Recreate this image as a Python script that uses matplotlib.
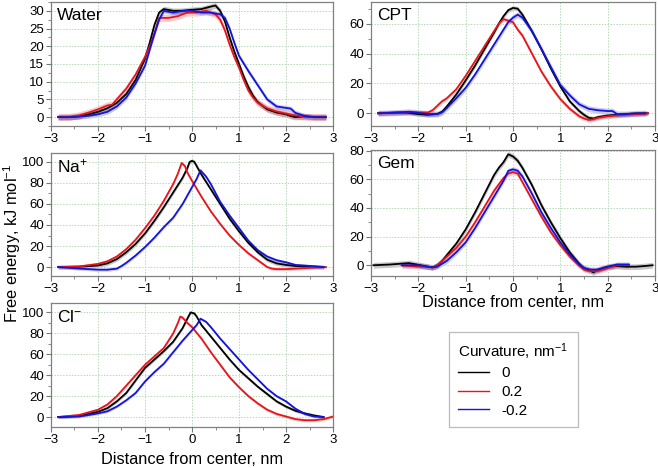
import numpy as np
import matplotlib
matplotlib.use("Agg")
import matplotlib.pyplot as plt
from matplotlib.ticker import MultipleLocator
from matplotlib.lines import Line2D

plt.rcParams['font.family'] = ['Liberation Sans', 'DejaVu Sans']
plt.rcParams['mathtext.fontset'] = 'custom'
plt.rcParams['mathtext.rm'] = 'Liberation Sans'
plt.rcParams['mathtext.it'] = 'Liberation Sans'

# (distance, free energy)
water_0 = [(-2.85, 0), (-2.6, 0), (-2.4, 0.3), (-2.2, 0.8), (-2.0, 1.5), (-1.8, 2.5), (-1.6, 4), (-1.4, 6.5),
           (-1.2, 10.5), (-1.0, 16.5), (-0.9, 21), (-0.8, 26), (-0.7, 29.5), (-0.6, 30.5), (-0.4, 30), (-0.2, 30),
           (0, 30.3), (0.2, 30.5), (0.4, 31.2), (0.5, 31.5), (0.6, 30), (0.7, 27), (0.8, 22.5), (0.9, 18.5),
           (1.0, 15), (1.1, 11.5), (1.2, 8.5), (1.3, 6), (1.4, 4.2), (1.6, 2.2), (1.8, 1.3), (2.0, 0.8),
           (2.1, 0.3), (2.2, 0), (2.4, 0.2), (2.6, 0), (2.85, 0)]
water_p2 = [(-2.85, 0), (-2.6, 0.1), (-2.4, 0.5), (-2.2, 1.3), (-2.0, 2.2), (-1.8, 3.3), (-1.7, 3.5), (-1.6, 5),
            (-1.4, 8), (-1.2, 12), (-1.0, 17), (-0.9, 20), (-0.8, 23.5), (-0.7, 28), (-0.5, 28), (-0.3, 28.5),
            (-0.1, 29.5), (0.1, 29.5), (0.3, 30), (0.5, 29), (0.6, 27.5), (0.7, 24.5), (0.8, 20.5), (0.9, 17),
            (1.0, 14), (1.1, 10.5), (1.2, 7.5), (1.3, 5.5), (1.4, 4), (1.6, 2.5), (1.8, 1.6), (2.0, 1.0),
            (2.2, 0.5), (2.4, 0.1), (2.6, 0), (2.85, 0)]
water_m2 = [(-2.85, 0), (-2.6, 0), (-2.4, 0.1), (-2.2, 0.4), (-2.0, 0.8), (-1.8, 1.5), (-1.6, 3), (-1.4, 5.5),
            (-1.2, 9.5), (-1.0, 14.5), (-0.9, 19), (-0.8, 23.5), (-0.7, 27.5), (-0.6, 30), (-0.4, 29.5),
            (-0.2, 30), (0, 30), (0.2, 29.5), (0.4, 29.5), (0.6, 29), (0.7, 28), (0.8, 25), (0.9, 21),
            (1.0, 17.3), (1.2, 13), (1.4, 9), (1.6, 5), (1.8, 3), (2.0, 2.6), (2.1, 2.4), (2.2, 1.2),
            (2.4, 0.3), (2.6, 0), (2.85, 0)]

cpt_0 = [(-2.85, 0), (-2.4, 0.5), (-2.2, 0.3), (-2.0, -0.5), (-1.8, -1), (-1.6, -0.5), (-1.5, 1), (-1.4, 4.5),
         (-1.2, 12.5), (-1.0, 22), (-0.8, 32), (-0.6, 43), (-0.4, 54), (-0.3, 60), (-0.2, 65), (-0.1, 69),
         (0, 70.5), (0.1, 70), (0.2, 66), (0.4, 55), (0.6, 43), (0.8, 30), (1.0, 18), (1.2, 8), (1.4, 1.5),
         (1.5, -1), (1.6, -3), (1.7, -3.5), (1.8, -2.5), (2.0, -1.5), (2.2, -1), (2.5, -0.3), (2.85, 0)]
cpt_p2 = [(-2.85, 0), (-2.2, 0.8), (-1.8, 0.5), (-1.7, 2), (-1.6, 5), (-1.5, 8), (-1.4, 10), (-1.2, 16),
          (-1.0, 25), (-0.8, 35), (-0.6, 45), (-0.4, 55), (-0.3, 60), (-0.2, 63), (-0.1, 62), (0, 61),
          (0.1, 56), (0.2, 52), (0.4, 40), (0.6, 28), (0.8, 18), (1.0, 9.5), (1.2, 3), (1.4, -2), (1.5, -3.5),
          (1.6, -4.5), (1.7, -4), (1.8, -3), (2.0, -2), (2.2, -1.5), (2.4, -1), (2.6, -0.5), (2.85, 0)]
cpt_m2 = [(-2.85, 0), (-2.4, 0.5), (-2.2, 1), (-2.0, 0.3), (-1.8, -0.5), (-1.6, -0.5), (-1.5, 0.5), (-1.4, 3.5),
          (-1.2, 10), (-1.0, 17), (-0.8, 26), (-0.6, 36), (-0.4, 46), (-0.2, 56), (-0.1, 61), (0, 64),
          (0.1, 66), (0.2, 64), (0.4, 55), (0.6, 43), (0.8, 31), (1.0, 19), (1.2, 12), (1.4, 6), (1.6, 3),
          (1.8, 2), (2.0, 1.5), (2.1, 1.5), (2.2, -0.5), (2.4, -0.5), (2.6, 0), (2.8, 0)]

na_0 = [(-2.85, 0), (-2.4, 0.3), (-2.0, 1.5), (-1.8, 3.5), (-1.6, 7.5), (-1.4, 14), (-1.2, 22), (-1.0, 32),
        (-0.8, 44), (-0.6, 57), (-0.4, 71), (-0.2, 85), (-0.1, 94), (-0.05, 100), (0, 101), (0.05, 100),
        (0.1, 96), (0.2, 88), (0.4, 74), (0.6, 60), (0.8, 46), (1.0, 34), (1.2, 23), (1.4, 14), (1.6, 7),
        (1.8, 3.5), (2.0, 2), (2.2, 1), (2.5, 0.5), (2.8, 0)]
na_p2 = [(-2.85, 0), (-2.4, 0.5), (-2.0, 3), (-1.8, 5.5), (-1.6, 10), (-1.4, 17), (-1.2, 26), (-1.0, 37),
         (-0.8, 49), (-0.6, 63), (-0.4, 79), (-0.3, 89), (-0.22, 99), (-0.15, 96), (-0.1, 90), (0, 82),
         (0.2, 67), (0.4, 53), (0.6, 41), (0.8, 30), (1.0, 21), (1.2, 13), (1.4, 6.5), (1.6, 0), (1.7, -1.5),
         (1.8, -2), (2.0, -2), (2.4, -1), (2.6, -0.5), (2.85, 0)]
na_m2 = [(-2.85, 0), (-2.4, -1.5), (-2.0, -2.5), (-1.8, -2.5), (-1.6, -1.5), (-1.5, 1), (-1.4, 4), (-1.2, 11),
         (-1.0, 19), (-0.8, 28), (-0.6, 38), (-0.4, 47), (-0.2, 60), (0, 76), (0.1, 84), (0.18, 92), (0.3, 86),
         (0.4, 79), (0.6, 62), (0.8, 49), (1.0, 37), (1.2, 25), (1.4, 16), (1.6, 10), (1.8, 6.5), (2.0, 4.5),
         (2.2, 2), (2.5, 1), (2.8, 0)]

gem_0 = [(-2.95, 0), (-2.6, 0.5), (-2.2, 1.5), (-2.0, 0.3), (-1.8, -1), (-1.7, -1.5), (-1.6, 0), (-1.5, 3),
         (-1.4, 7), (-1.2, 15), (-1.0, 25), (-0.8, 37), (-0.6, 50), (-0.4, 63), (-0.3, 68), (-0.2, 72),
         (-0.1, 77.5), (0, 76), (0.1, 73), (0.2, 68), (0.4, 56), (0.6, 42), (0.8, 30), (1.0, 19), (1.2, 9),
         (1.4, 1), (1.5, -2), (1.6, -3), (1.7, -5), (1.8, -3), (2.0, -1), (2.2, -0.5), (2.4, -1), (2.6, -1),
         (2.8, -0.5), (2.95, 0)]
gem_p2 = [(-2.35, 0), (-2.2, -0.5), (-2.0, -1), (-1.8, -1), (-1.7, -1.5), (-1.6, 0), (-1.5, 3), (-1.4, 6),
          (-1.2, 12), (-1.0, 20), (-0.8, 30), (-0.6, 41), (-0.4, 52), (-0.2, 61), (-0.1, 64), (0, 65),
          (0.1, 64), (0.2, 58), (0.4, 46), (0.6, 34), (0.8, 23), (1.0, 14), (1.2, 6), (1.4, -0.5), (1.5, -3),
          (1.6, -4), (1.8, -4), (2.0, -2), (2.2, 0), (2.45, 0)]
gem_m2 = [(-2.35, 0), (-2.2, 0), (-2.0, 0), (-1.8, -1), (-1.7, -1.5), (-1.6, -1), (-1.5, 1), (-1.4, 3),
          (-1.2, 9), (-1.0, 16), (-0.8, 26), (-0.6, 37), (-0.4, 48), (-0.2, 59), (-0.1, 66), (0, 67),
          (0.1, 66), (0.2, 62), (0.4, 50), (0.6, 37), (0.8, 26), (1.0, 16), (1.2, 7.5), (1.4, 0.5), (1.5, -2),
          (1.6, -3), (1.8, -3), (2.0, -1), (2.2, 0.5), (2.45, 0.5)]

cl_0 = [(-2.85, 0), (-2.4, 1), (-2.0, 5), (-1.8, 8.5), (-1.6, 15), (-1.4, 23), (-1.2, 35), (-1.0, 47),
        (-0.8, 55), (-0.6, 63), (-0.4, 72), (-0.2, 85), (-0.1, 94), (-0.03, 100), (0.05, 99), (0.1, 96),
        (0.2, 88), (0.4, 77), (0.6, 66), (0.8, 55), (1.0, 45), (1.2, 37), (1.4, 29), (1.6, 22), (1.8, 15),
        (2.0, 10), (2.2, 6), (2.4, 3.5), (2.6, 1.5), (2.8, 0)]
cl_p2 = [(-2.85, 0), (-2.4, 2), (-2.0, 7), (-1.8, 12), (-1.6, 20), (-1.4, 30), (-1.2, 40), (-1.0, 50),
         (-0.8, 58), (-0.6, 66), (-0.4, 80), (-0.3, 90), (-0.25, 96), (-0.2, 95), (-0.1, 90), (0, 86),
         (0.2, 75), (0.4, 62), (0.6, 50), (0.8, 38), (1.0, 28.5), (1.2, 20), (1.4, 13), (1.6, 7), (1.8, 3),
         (2.0, 0.5), (2.2, -2), (2.4, -3), (2.6, -3), (2.8, -2), (3.0, 0.5)]
cl_m2 = [(-2.85, 0), (-2.4, 0.5), (-2.0, 3.5), (-1.8, 5.5), (-1.6, 10), (-1.4, 16), (-1.2, 23), (-1.0, 34),
         (-0.8, 43), (-0.6, 51), (-0.4, 62), (-0.2, 73), (0, 83), (0.1, 88), (0.18, 94), (0.3, 91), (0.4, 86),
         (0.6, 75), (0.8, 65), (1.0, 55), (1.2, 45), (1.4, 36), (1.6, 27), (1.8, 20), (2.0, 15), (2.2, 8),
         (2.4, 3), (2.6, 0.5), (2.8, 0)]

curvatures = ['0', '0.2', '-0.2']
colors = ['#000000', '#e8141c', '#1414d8']

# name, curves, error band half-width, ylim, major tick step, axes rect (fig fraction)
panels = [
    ('Water', [water_0, water_p2, water_m2], [0.8, 1.0, 0.7], (-2.5, 32.5), 5,
     [0.0775, 0.7308, 0.4286, 0.2650]),
    ('CPT', [cpt_0, cpt_p2, cpt_m2], [1.5, 1.5, 2.0], (-8.5, 74.5), 20,
     [0.5638, 0.7308, 0.4316, 0.2650]),
    ('Na$^{+}$', [na_0, na_p2, na_m2], [2.0, 1.5, 1.5], (-8.5, 108.5), 20,
     [0.0775, 0.4103, 0.4286, 0.2628]),
    ('Gem', [gem_0, gem_p2, gem_m2], [2.0, 1.8, 1.8], (-7.5, 80.5), 20,
     [0.5638, 0.4103, 0.4316, 0.2692]),
    ('Cl$^{-}$', [cl_0, cl_p2, cl_m2], [1.5, 1.5, 1.2], (-9.5, 109), 20,
     [0.0775, 0.0876, 0.4286, 0.2650]),
]

fig = plt.figure(figsize=(6.58, 4.68), dpi=100)
axes = {}
for name, curves, errs, ylim, step, rect in panels:
    ax = fig.add_axes(rect)
    for data, err, c in zip(curves, errs, colors):
        x, y = np.array(data).T
        ax.fill_between(x, y - err, y + err, color=c, alpha=0.22, lw=0)
        ax.plot(x, y, color=c, lw=1.3)
    ax.set_xlim(-3, 3)
    ax.set_ylim(*ylim)
    ax.xaxis.set_major_locator(MultipleLocator(1))
    ax.xaxis.set_minor_locator(MultipleLocator(0.5))
    ax.yaxis.set_major_locator(MultipleLocator(step))
    ax.yaxis.set_minor_locator(MultipleLocator(step / 2))
    ax.grid(True, which='major', color='#b8d8b8', ls=(0, (1.5, 1.5)), lw=0.7)
    ax.tick_params(which='both', direction='out', color='#777777', labelsize=9.5, pad=1.5,
                   top=False, right=False)
    ax.tick_params(which='major', length=3.5, width=0.8)
    ax.tick_params(which='minor', length=2, width=0.6)
    for s in ax.spines.values():
        s.set_color('#808080')
        s.set_linewidth(0.9)
    ax.text(0.022, 0.89, name, transform=ax.transAxes, fontsize=12.5, va='center', ha='left')
    axes[name] = ax

axes['Gem'].set_xlabel('Distance from center, nm', fontsize=11.8, labelpad=0)
axes['Cl$^{-}$'].set_xlabel('Distance from center, nm', fontsize=11.8, labelpad=4)
fig.text(0.018, 0.48, 'Free energy, kJ mol$^{-1}$', rotation=90, fontsize=11.8, ha='center', va='center')

handles = [Line2D([], [], color=c, lw=1.0) for c in colors]
leg = fig.legend(handles, curvatures, title='Curvature, nm$^{-1}$', loc='upper left',
                 bbox_to_anchor=(449 / 658, 1 - 332 / 468), borderaxespad=0,
                 fontsize=11, title_fontsize=11, frameon=True, fancybox=False,
                 edgecolor='#aaaaaa', handlelength=2.0, handletextpad=0.8,
                 labelspacing=0.3, borderpad=0.6, alignment='left')
leg.get_frame().set_linewidth(0.9)

fig.savefig('out.png', dpi=100)
